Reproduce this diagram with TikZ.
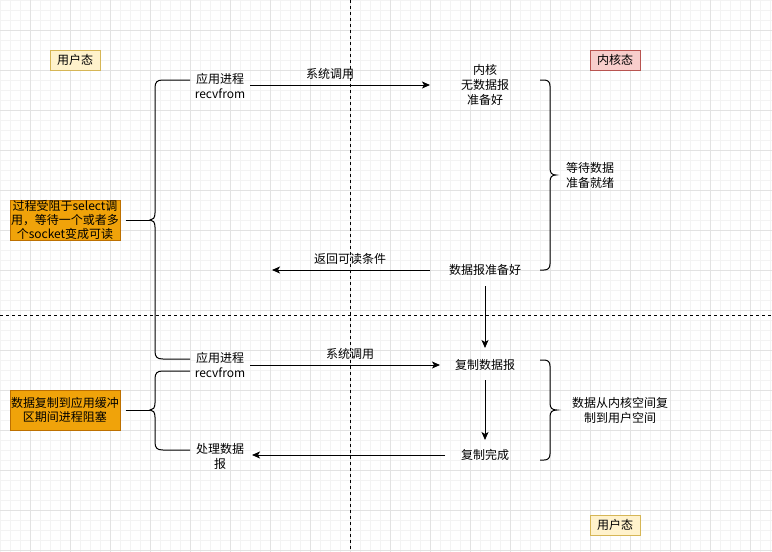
\documentclass[tikz,border=0pt]{standalone}
\usepackage{fontspec}
\setmainfont{Noto Sans CJK SC}
\usetikzlibrary{arrows.meta}
\definecolor{minorgrid}{HTML}{F3F3F3}
\definecolor{majorgrid}{HTML}{E2E2E2}
\definecolor{userfill}{HTML}{FFF2CC}
\definecolor{userdraw}{HTML}{D6B656}
\definecolor{kernfill}{HTML}{F8CECC}
\definecolor{kerndraw}{HTML}{B85450}
\definecolor{orfill}{HTML}{F0A30A}
\definecolor{ordraw}{HTML}{BD7000}
\tikzset{
  txt/.style={align=center, inner sep=0pt, font=\fontsize{12}{15}\selectfont},
  userbox/.style={txt, draw=userdraw, fill=userfill, line width=1pt, minimum width=50pt, minimum height=20pt},
  kernbox/.style={txt, draw=kerndraw, fill=kernfill, line width=1pt, minimum width=50pt, minimum height=20pt},
  orbox/.style={txt, draw=ordraw, fill=orfill, line width=1pt, minimum width=110pt, minimum height=40pt, font=\fontsize{12}{14}\selectfont},
  arr/.style={line width=1pt, -{Stealth[length=8pt,width=7pt,inset=2pt]}},
  brace/.style={line width=1pt},
  sep/.style={line width=1pt, dash pattern=on 3pt off 3pt},
}
\begin{document}
\begin{tikzpicture}[x=1pt,y=-1pt]
\useasboundingbox (0,0) rectangle (772,552);
\fill[white] (0,0) rectangle (772,552);
% grid
\foreach \i in {0,10,...,770} \draw[minorgrid, line width=1pt] (\i,0) -- (\i,552);
\foreach \j in {0,10,...,550} \draw[minorgrid, line width=1pt] (0,\j) -- (772,\j);
\foreach \i in {30,70,...,770} \draw[majorgrid, line width=1pt] (\i,0) -- (\i,552);
\foreach \j in {30,70,...,550} \draw[majorgrid, line width=1pt] (0,\j) -- (772,\j);
% separators
\draw[sep] (350,0) -- (350,552);
\draw[sep] (0,315) -- (772,315);
% state labels
\node[userbox] (user1) at (75,60) {用户态};
\node[kernbox] (kern) at (615,60) {内核态};
\node[userbox] (user2) at (615,525) {用户态};
% text nodes
\node[txt] (recv1) at (220,86) {应用进程\\recvfrom};
\node[txt] (nodata) at (485,85) {内核\\无数据报\\准备好};
\node[txt] (ready) at (485,270) {数据报准备好};
\node[txt] (recv2) at (220,365) {应用进程\\recvfrom};
\node[txt] (copy) at (485,365) {复制数据报};
\node[txt] (done) at (485,455) {复制完成};
\node[txt] (proc) at (220,456) {处理数据\\报};
\node[txt] (wait) at (590,175) {等待数据\\准备就绪};
\node[txt] (copyk) at (620,410) {数据从内核空间复\\制到用户空间};
\node[orbox] (blk1) at (65,220) {过程受阻于select调\\用，等待一个或者多\\个socket变成可读};
\node[orbox] (blk2) at (65,410) {数据复制到应用缓冲\\区期间进程阻塞};
% arrow labels
\node[txt] (lsys1) at (330,74) {系统调用};
\node[txt] (lret) at (350,259) {返回可读条件};
\node[txt] (lsys2) at (350,354) {系统调用};
% arrows
\coordinate (retend) at (272,270);
\draw[arr, shorten <=30pt, shorten >=55pt] (recv1.center |- nodata.center) -- (nodata.center);
\draw[arr, shorten <=55pt] (ready.center) -- (retend);
\draw[arr, shorten <=16pt, shorten >=17pt] (ready.center) -- (copy.center);
\draw[arr, shorten <=30pt, shorten >=45pt] (recv2.center) -- (copy.center);
\draw[arr, shorten <=15pt, shorten >=15pt] (copy.center) -- (done.center);
\draw[arr, shorten <=40pt, shorten >=32pt] (done.center) -- (done.center -| proc.center);
% braces
\coordinate (lb1) at (150,220);
\coordinate (lb2) at (150,410);
\draw[brace] (190,80) -- (163,80) .. controls (157,80) and (155,82) .. (155,88)
  -- (155,213) .. controls (155,218) and (153,220) .. (lb1)
  .. controls (153,220) and (155,222) .. (155,227)
  -- (155,351) .. controls (155,357) and (157,359) .. (163,359) -- (190,359);
\draw[brace] (190,371) -- (163,371) .. controls (157,371) and (155,373) .. (155,379)
  -- (155,403) .. controls (155,408) and (153,410) .. (lb2)
  .. controls (153,410) and (155,412) .. (155,417)
  -- (155,442) .. controls (155,448) and (157,450) .. (163,450) -- (190,450);
\draw[brace] (540,80) -- (544,80) .. controls (548,80) and (550,82) .. (550,86)
  -- (550,168) .. controls (550,173) and (552,175) .. (556,175)
  .. controls (552,175) and (550,177) .. (550,182)
  -- (550,264) .. controls (550,268) and (548,270) .. (544,270) -- (540,270);
\draw[brace] (540,360) -- (544,360) .. controls (548,360) and (550,362) .. (550,366)
  -- (550,403) .. controls (550,408) and (552,410) .. (557,410)
  .. controls (552,410) and (550,412) .. (550,417)
  -- (550,454) .. controls (550,458) and (548,460) .. (544,460) -- (540,460);
% brace connectors
\draw[brace] (blk1.east) ++(5,0) -- (lb1);
\draw[brace] (blk2.east) ++(5,0) -- (lb2);
\end{tikzpicture}
\end{document}
